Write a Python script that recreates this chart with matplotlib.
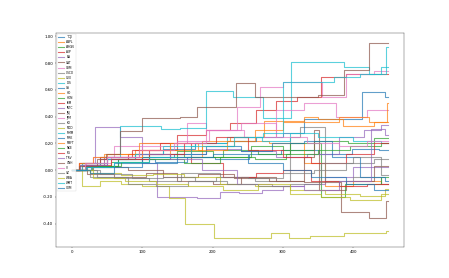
import matplotlib
matplotlib.use("Agg")
import matplotlib.pyplot as plt
from matplotlib.ticker import FuncFormatter

# cumulative return paths (x, level)
END = 450
tickers = ["^DJI", "AAPL", "AMGN", "AXP", "BA", "CAT", "CRM", "CSCO", "CVX", "DIS",
           "GS", "HD", "HON", "IBM", "INTC", "JNJ", "JPM", "KO", "MCD", "MMM",
           "MRK", "MSFT", "NKE", "PG", "TRV", "UNH", "V", "VZ", "WBA", "WMT", "XOM"]

DJI = ([0, 27, 66, 118, 163, 204, 252, 297, 352, 398, 437],
       [0, 0.03, 0.08, 0.06, 0.10, 0.08, 0.12, 0.15, 0.12, 0.16, 0.15])
AAPL = ([0, 12, 45, 90, 140, 185, 230, 280, 330, 360, 400, 440],
        [0, 0.04, 0.12, 0.15, 0.10, 0.18, 0.22, 0.20, 0.05, -0.12, -0.08, -0.10])
AMGN = ([0, 18, 55, 100, 150, 200, 255, 300, 345, 392, 430],
        [0, 0.02, 0.06, 0.10, 0.14, 0.10, 0.18, 0.15, 0.22, 0.20, 0.24])
AXP = ([0, 15, 40, 80, 110, 150, 190, 225, 262, 290, 320, 354, 390],
       [0, 0.03, 0.08, 0.12, 0.15, 0.26, 0.30, 0.35, 0.45, 0.52, 0.55, 0.70, 0.72])
BA = ([0, 10, 33, 69, 100, 121, 160, 178, 211, 238, 270, 300, 330, 360, 400],
      [0, 0.05, 0.32, 0.25, 0.05, -0.20, -0.20, -0.205, -0.165, -0.17, -0.15, -0.12, -0.10, -0.05, 0.02])
CAT = ([0, 22, 60, 105, 150, 200, 240, 290, 330, 345, 352, 390, 430],
       [0, -0.03, -0.05, -0.02, -0.08, -0.10, -0.05, -0.08, 0.10, 0.30, -0.15, -0.08, 0.03])
CRM = ([0, 10, 30, 60, 100, 164, 190, 235, 268, 300, 356, 390, 430],
       [0, 0.05, 0.10, 0.18, 0.20, 0.355, 0.30, 0.47, 0.62, 0.66, 0.55, 0.72, 0.74])
CSCO = ([0, 25, 60, 110, 155, 210, 260, 310, 325, 360, 400, 440],
        [0, -0.05, -0.06, -0.08, -0.02, -0.05, -0.08, 0.25, 0.32, -0.08, -0.05, -0.10])
CVX = ([0, 14, 40, 70, 100, 138, 161, 202, 283, 309, 339, 387, 447],
       [0, -0.12, -0.08, -0.10, -0.12, -0.21, -0.40, -0.505, -0.47, -0.505, -0.49, -0.47, -0.455])
DIS = ([0, 12, 40, 69, 126, 154, 190, 229, 272, 311, 360, 387, 423, 447],
       [0, 0.04, 0.10, 0.33, 0.31, 0.315, 0.59, 0.55, 0.39, 0.81, 0.81, 0.77, 0.72, 0.92])
GS = ([0, 20, 50, 90, 130, 175, 220, 262, 300, 330, 385, 413, 445],
      [0, 0.04, 0.08, 0.12, 0.16, 0.20, 0.22, 0.25, 0.28, 0.38, 0.38, 0.585, 0.55])
HD = ([0, 15, 50, 95, 140, 185, 225, 273, 330, 350, 385, 430],
      [0, 0.05, 0.12, 0.20, 0.15, 0.22, 0.25, 0.37, 0.40, 0.38, 0.33, 0.36])
HON = ([0, 20, 65, 110, 160, 215, 265, 310, 355, 388, 440],
       [0, 0.03, 0.08, 0.12, 0.10, 0.15, 0.12, 0.20, -0.20, -0.10, -0.05])
IBM = ([0, 10, 40, 85, 125, 170, 215, 262, 300, 340, 380, 420],
       [0, 0.05, 0.10, 0.15, 0.20, 0.05, -0.05, -0.02, 0.0, -0.08, -0.12, -0.10])
INTC = ([0, 15, 45, 90, 140, 190, 240, 290, 335, 380, 415, 440],
        [0, 0.04, 0.10, 0.08, 0.12, 0.16, 0.14, 0.10, 0.12, 0.25, 0.30, 0.34])
JNJ = ([0, 30, 80, 130, 180, 230, 280, 330, 383, 423, 447],
       [0, 0.02, 0.0, -0.05, -0.03, -0.06, -0.08, -0.09, -0.31, -0.36, -0.23])
JPM = ([0, 20, 55, 100, 150, 195, 245, 290, 330, 375, 420],
       [0, 0.05, 0.10, 0.18, 0.22, 0.30, 0.25, 0.45, 0.50, 0.40, 0.45])
KO = ([0, 35, 80, 120, 165, 205, 250, 300, 345, 390, 430],
      [0, -0.05, -0.10, -0.12, -0.08, -0.05, -0.06, -0.02, 0.0, 0.05, 0.08])
MCD = ([0, 25, 70, 115, 160, 210, 260, 310, 360, 410, 445],
       [0, -0.02, -0.04, -0.03, -0.05, -0.10, -0.12, -0.15, -0.18, -0.19, -0.14])
MMM = ([0, 15, 50, 90, 130, 175, 220, 270, 310, 350, 400, 440],
       [0, 0.05, 0.08, 0.12, 0.18, 0.20, 0.25, 0.22, 0.28, 0.25, 0.22, 0.20])
MRK = ([0, 22, 60, 100, 145, 190, 240, 285, 330, 370, 410, 445],
       [0, 0.02, 0.05, 0.10, 0.12, 0.18, 0.14, 0.20, 0.22, 0.10, -0.05, -0.08])
MSFT = ([0, 10, 30, 60, 100, 140, 180, 220, 260, 300, 330, 380, 423, 448],
        [0, 0.05, 0.10, 0.10, 0.15, 0.20, 0.15, 0.22, 0.30, 0.36, 0.36, 0.40, 0.36, 0.50])
NKE = ([0, 28, 70, 110, 160, 210, 260, 305, 350, 395, 440],
       [0, 0.03, 0.06, 0.08, 0.05, 0.10, 0.08, 0.12, 0.15, 0.18, 0.20])
PG = ([0, 20, 55, 110, 160, 205, 250, 300, 340, 390, 430],
      [0, 0.04, 0.08, 0.12, 0.20, 0.25, 0.15, 0.10, 0.05, 0.12, 0.20])
TRV = ([0, 12, 50, 95, 140, 185, 235, 285, 330, 380, 425, 445],
       [0, 0.04, 0.10, 0.12, 0.08, 0.0, -0.10, -0.12, -0.15, -0.08, 0.31, 0.26])
UNH = ([0, 10, 35, 48, 69, 100, 154, 178, 233, 261, 350, 387, 423],
       [0, 0.03, 0.08, 0.12, 0.29, 0.39, 0.40, 0.47, 0.65, 0.55, 0.56, 0.75, 0.95])
V = ([0, 18, 50, 95, 145, 190, 240, 290, 335, 380, 420],
     [0, 0.05, 0.10, 0.15, 0.20, 0.30, 0.35, 0.25, 0.20, 0.18, 0.22])
VZ = ([0, 40, 85, 130, 175, 220, 265, 310, 355, 400, 440],
      [0, -0.03, -0.06, -0.05, -0.08, -0.10, -0.12, -0.10, 0.05, 0.10, -0.04])
WBA = ([0, 30, 75, 120, 165, 215, 265, 310, 355, 395, 440],
       [0, -0.06, -0.08, -0.10, -0.12, -0.15, -0.10, -0.18, -0.20, -0.22, -0.18])
WMT = ([0, 20, 60, 110, 170, 230, 272, 300, 333, 373, 410, 440],
       [0, 0.02, 0.06, 0.10, 0.18, 0.25, 0.28, 0.66, 0.66, 0.70, 0.72, 0.77])
XOM = ([0, 25, 60, 100, 150, 200, 250, 300, 340, 390, 430],
       [0, -0.02, 0.02, 0.05, 0.10, 0.12, 0.05, 0.0, -0.05, -0.10, -0.15])

series = [DJI, AAPL, AMGN, AXP, BA, CAT, CRM, CSCO, CVX, DIS, GS, HD, HON, IBM,
          INTC, JNJ, JPM, KO, MCD, MMM, MRK, MSFT, NKE, PG, TRV, UNH, V, VZ, WBA,
          WMT, XOM]

fig = plt.figure(figsize=(449 / 28, 278 / 28), dpi=28)
ax = fig.add_subplot(111)

for name, (xs, ys) in zip(tickers, series):
    xs = list(xs) + [END]
    ys = list(ys) + [ys[-1]]
    ax.step(xs, ys, where="post", label=name, linewidth=2.8, alpha=0.7)

ax.yaxis.set_major_formatter(FuncFormatter(lambda v, p: f"{v:.2f}"))
ax.legend(loc="upper left", fontsize=7.5, labelspacing=0.35, borderaxespad=0.3)

fig.savefig("out.png", dpi=28)
